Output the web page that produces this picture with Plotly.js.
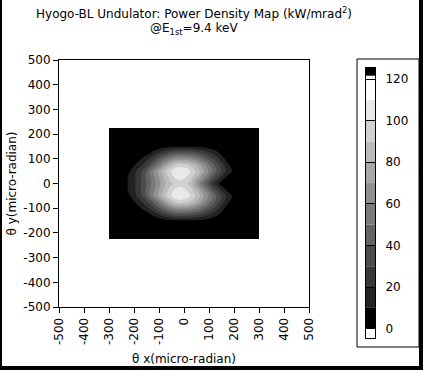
<!DOCTYPE html>
<html><head><meta charset="utf-8">
<script src="https://cdn.plot.ly/plotly-3.0.1.min.js"></script>
<style>
html,body{margin:0;padding:0;background:#fff;}
#frame{position:absolute;left:0;top:0;width:417px;height:366px;border-left:2px solid #000;border-right:4px solid #000;border-bottom:4px solid #000;}
#chart{width:417px;height:366px;}
</style></head><body>
<div id="frame"><div id="chart"></div></div>
<script>
// grid coordinates (micro-radian)
const xVals = [-300,-250,-225,-200,-175,-150,-125,-100,-75,-50,-25,0,25,50,75,100,125,150,175,200,225,250,300];
const yVals = [-225,-175,-150,-125,-100,-75,-50,-25,0,25,50,75,100,125,150,175,225];
// power density (kW/mrad^2), one row per y value
const zRows = [
 [0,0,0,0,0,0,0,0,0,0,0,0,0,0,0,0,0,0,0,0,0,0,0],
 [0,0,0,0,0,0,0,0,1,1,1,1,1,1,0,0,0,0,0,0,0,0,0],
 [0,0,0,0,0,0,1,3,6,8,9,9,9,8,7,5,3,1,0,0,0,0,0],
 [0,0,0,0,2,5,12,20,28,34,37,37,36,33,28,21,14,7,2,0,0,0,0],
 [0,0,0,3,9,17,27,39,50,59,65,65,62,56,47,38,27,15,5,1,0,0,0],
 [0,0,2,9,17,27,40,55,71,85,95,94,88,78,66,52,39,25,12,4,1,0,0],
 [0,1,6,16,26,41,58,73,88,101,108,107,100,88,74,58,43,29,16,7,2,0,0],
 [0,2,10,18,29,42,56,70,84,97,104,102,95,80,64,48,32,18,7,2,0,0,0],
 [0,2,10,17,28,40,53,67,79,88,95,94,87,70,52,34,17,5,1,0,0,0,0],
 [0,2,10,18,29,42,56,70,84,97,104,102,95,80,64,48,32,18,7,2,0,0,0],
 [0,1,6,16,26,41,58,73,88,101,108,107,100,88,74,58,43,29,16,7,2,0,0],
 [0,0,2,9,17,27,40,55,71,85,95,94,88,78,66,52,39,25,12,4,1,0,0],
 [0,0,0,3,9,17,27,39,50,59,65,65,62,56,47,38,27,15,5,1,0,0,0],
 [0,0,0,0,2,5,12,20,28,34,37,37,36,33,28,21,14,7,2,0,0,0,0],
 [0,0,0,0,0,0,1,3,6,8,9,9,9,8,7,5,3,1,0,0,0,0,0],
 [0,0,0,0,0,0,0,0,1,1,1,1,1,1,0,0,0,0,0,0,0,0,0],
 [0,0,0,0,0,0,0,0,0,0,0,0,0,0,0,0,0,0,0,0,0,0,0]
];
// colour legend bands
const cbEdges = [-4.5,0,10,20,30,40,50,60,70,80,90,100,110,121.6,125.3];
const cbColors = ['#ffffff','#000000','#222222','#383838','#4c4c4c','#646464','#7a7a7a','#909090','#a8a8a8','#bbbbbb','#d0d0d0','#e8e8e8','#ffffff','#000000'];
const cbTicks = [0,20,40,60,80,100,120];
const axisTicks = [-500,-400,-300,-200,-100,0,100,200,300,400,500];
const titleLines = ['Hyogo-BL Undulator: Power Density Map (kW/mrad<sup>2</sup>)', '@E<sub>1st</sub>=9.4 keV'];

const mapColors = cbColors.slice(1,13);
const colorscale = mapColors.map((c,i)=>[i/(mapColors.length-1), c]);

const font = {family:'DejaVu Sans, sans-serif', size:12, color:'#000'};
const tickFont = {family:'DejaVu Sans, sans-serif', size:12, color:'#000'};

const contour = {
  type:'contour', x:xVals, y:yVals, z:zRows,
  colorscale: colorscale, showscale:false,
  contours:{start:10, end:110, size:10, coloring:'fill', showlines:false},
  line:{width:0, smoothing:1.3},
  xaxis:'x', yaxis:'y', hoverinfo:'skip'
};
const bandBase = cbEdges.slice(0,-1);
const bandH = bandBase.map((b,i)=>cbEdges[i+1]-b);
const legendBar = {
  type:'bar', x:bandBase.map(()=>0), base:bandBase, y:bandH, width:1,
  marker:{color:cbColors, line:{width:0}},
  xaxis:'x2', yaxis:'y2', hoverinfo:'skip', showlegend:false
};

const W = 353, H = 282;
const layout = {
  width:417, height:366,
  margin:{l:57, r:7, t:58, b:26},
  paper_bgcolor:'#fff', plot_bgcolor:'#fff',
  font: font,
  showlegend:false,
  annotations:[
    {text:titleLines[0], xref:'paper', yref:'paper', x:(192-57)/W, y:(340-13)/H, xanchor:'center', yanchor:'middle', showarrow:false, font:font},
    {text:titleLines[1], xref:'paper', yref:'paper', x:(192-57)/W, y:(340-29)/H, xanchor:'center', yanchor:'middle', showarrow:false, font:font}
  ],
  xaxis:{
    domain:[0, 250/W], range:[-500,500], tickvals:axisTicks, ticktext:axisTicks.map(String),
    tickangle:-90, ticks:'outside', ticklen:5, tickcolor:'#000', tickfont:tickFont,
    showline:true, mirror:true, linecolor:'#000', linewidth:1,
    showgrid:false, zeroline:false, anchor:'y',
    title:{text:'θ x(micro-radian)', font:tickFont, standoff:15}
  },
  yaxis:{
    domain:[(340-307)/H, (340-60)/H], range:[-500,500], tickvals:axisTicks, ticktext:axisTicks.map(String),
    ticks:'outside', ticklen:5, tickcolor:'#000', tickfont:tickFont,
    showline:true, mirror:true, linecolor:'#000', linewidth:1,
    showgrid:false, zeroline:false, anchor:'x',
    title:{text:'θ y(micro-radian)', font:tickFont, standoff:4}
  },
  xaxis2:{
    domain:[(364-57)/W, (373-57)/W], range:[-0.5,0.5], anchor:'y2',
    showticklabels:false, ticks:'', showgrid:false, zeroline:false,
    showline:true, mirror:true, linecolor:'#000', linewidth:1, fixedrange:true
  },
  yaxis2:{
    domain:[(340-338)/H, (340-68)/H], range:[cbEdges[0], cbEdges[cbEdges.length-1]], anchor:'x2', side:'right',
    tickvals:cbTicks, ticktext:cbTicks.map(String), tickfont:tickFont,
    ticks:'inside', ticklen:9, tickcolor:'#000', ticklabelstandoff:7,
    showgrid:false, zeroline:false, showline:true, mirror:true, linecolor:'#000', linewidth:1
  },
  shapes:[{
    type:'rect', xref:'paper', yref:'paper',
    x0:(355-57)/W, x1:(417-57)/W, y0:(340-347)/H, y1:(340-59)/H,
    line:{color:'#000', width:1}, fillcolor:'rgba(0,0,0,0)', layer:'below'
  }]
};
Plotly.newPlot('chart', [contour, legendBar], layout, {displayModeBar:false, staticPlot:true});
</script>
</body></html>
